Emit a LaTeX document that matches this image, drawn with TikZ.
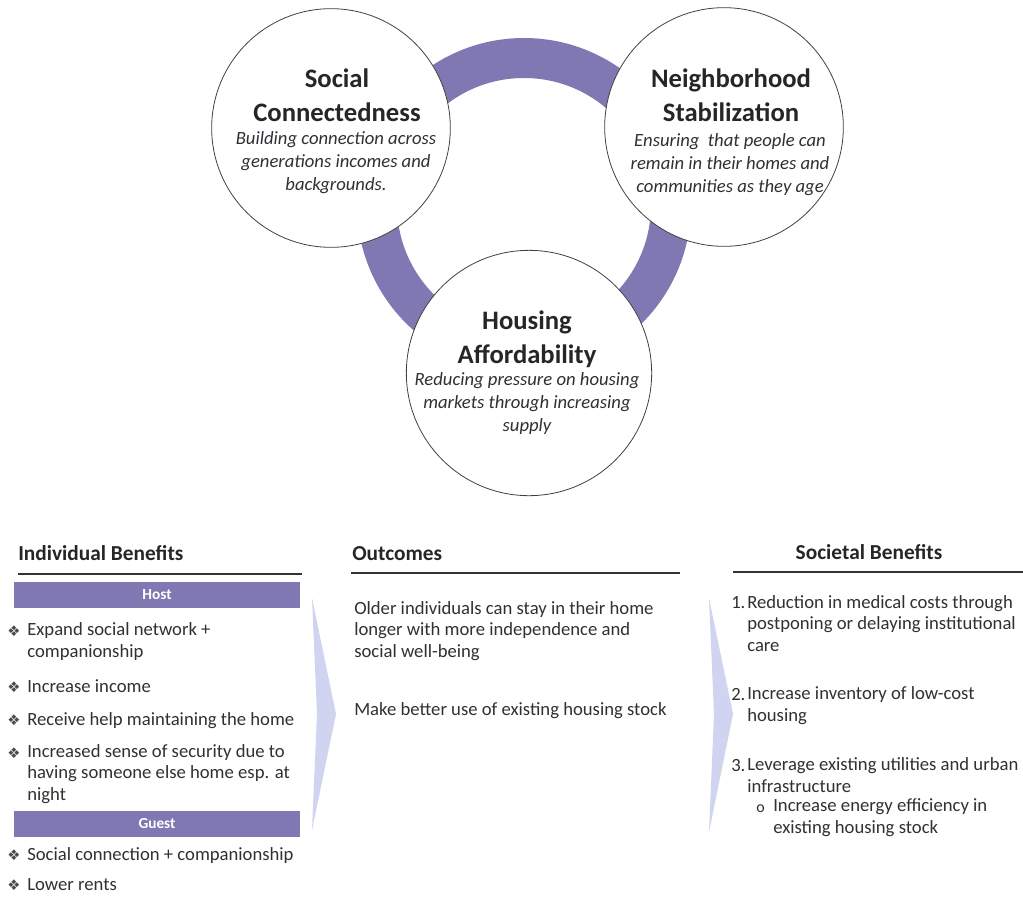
\documentclass[tikz,border=0pt]{standalone}
\usepackage{fontspec}
\setmainfont{Carlito}
\newfontfamily\symfont{DejaVu Sans}
\usepackage{tikz}
\usetikzlibrary{positioning}

\definecolor{ringpurple}{RGB}{128,120,178}
\definecolor{chevblue}{RGB}{208,212,240}
\definecolor{txtgray}{RGB}{48,48,54}

\tikzstyle{circ} = [circle, minimum size=179pt, inner sep=0pt, draw=black!75, line width=0.6pt, fill=white]
\tikzstyle{ttl} = [align=center, inner sep=0pt, font=\fontsize{20}{25.5}\selectfont\bfseries, text=black!85]
\tikzstyle{dsc} = [align=center, inner sep=0pt, font=\fontsize{14}{17}\selectfont\itshape, text=txtgray]
\tikzstyle{hd} = [inner sep=0pt, font=\fontsize{16}{18}\selectfont\bfseries, text=black!85]
\tikzstyle{txt} = [align=left, inner sep=0pt, font=\fontsize{14}{16}\selectfont, text=txtgray]
\tikzstyle{blt} = [inner sep=0pt, font=\symfont\fontsize{11}{11}\selectfont, text=black!70]
\tikzstyle{pbar} = [rectangle, minimum width=214.5pt, minimum height=19pt, inner sep=0pt, fill=ringpurple, text=white, font=\fontsize{11.5}{12}\selectfont\bfseries]
\tikzstyle{rule} = [line width=1.5pt, black!80]
\tikzstyle{chev} = [fill=chevblue]

\begin{document}
\begin{tikzpicture}[x=0.75pt, y=-0.75pt]

\fill [white] (0,0) rectangle (1023,896);
\useasboundingbox (0,0) rectangle (1023,896);

% ring behind the three circles
\draw [ringpurple, line width=30pt] (524,205) circle [radius=147];

\node (S) [circ] at (331,128) {};
\node (N) [circ] at (724,127) {};
\node (H) [circ, minimum size=184pt] at (529,373) {};

% multi-line texts sit on the baseline of their last line
\node (St) [ttl, anchor=base] at (337,121) {Social\\Connectedness};
\node (Sd) [dsc, anchor=base] at (336,190) {Building connection across\\generations incomes and\\backgrounds.};

\node (Nt) [ttl, anchor=base] at (731,121) {Neighborhood\\Stabilization};
\node (Nd) [dsc, anchor=base] at (730,192) {Ensuring\ \ that people can\\remain in their homes and\\communities as they age};

\node (Ht) [ttl, anchor=base] at (527,363) {Housing\\Affordability};
\node (Hd) [dsc, anchor=base] at (527,431) {Reducing pressure on housing\\markets through increasing\\supply};

% individual benefits
\node (ib) [hd, anchor=base west] at (18,560) {Individual Benefits};
\draw [rule] (18,574) -- (302,574);
\node (host) [pbar] at (157,595) {Host};

\node (b1) [blt, anchor=base] at (14,636) {❖};
\node (h1) [txt, anchor=base west] at (27,657) {Expand social network +\\companionship};
\node (b2) [blt, anchor=base] at (14,692) {❖};
\node (h2) [txt, anchor=base west] at (27,692) {Increase income};
\node (b3) [blt, anchor=base] at (14,725) {❖};
\node (h3) [txt, anchor=base west] at (27,725) {Receive help maintaining the home};
\node (b4) [blt, anchor=base] at (14,758) {❖};
\node (h4) [txt, anchor=base west] at (27,800) {Increased sense of security due to\\having someone else home esp. at\\night};

\node (guest) [pbar] at (157,824) {Guest};
\node (b5) [blt, anchor=base] at (14,860) {❖};
\node (g1) [txt, anchor=base west] at (27,860) {Social connection + companionship};
\node (b6) [blt, anchor=base] at (14,890) {❖};
\node (g2) [txt, anchor=base west] at (27,890) {Lower rents};

% outcomes
\node (oc) [hd, anchor=base west] at (352,560) {Outcomes};
\draw [rule] (351,573) -- (680,573);
\node (o1) [txt, anchor=base west] at (354,657) {Older individuals can stay in their home\\longer with more independence and\\social well-being};
\node (o2) [txt, anchor=base west] at (354,715) {Make better use of existing housing stock};

% societal benefits
\node (sb) [hd, anchor=base] at (869,559) {Societal Benefits};
\draw [rule] (733,572) -- (1023,572);
\node (n1) [txt, anchor=base west] at (731,608) {1.};
\node (s1) [txt, anchor=base west] at (747,651) {Reduction in medical costs through\\postponing or delaying institutional\\care};
\node (n2) [txt, anchor=base west] at (731,700) {2.};
\node (s2) [txt, anchor=base west] at (747,721) {Increase inventory of low-cost\\housing};
\node (n3) [txt, anchor=base west] at (731,771) {3.};
\node (s3) [txt, anchor=base west] at (747,792) {Leverage existing utilities and urban\\infrastructure};
\node (ob) [txt, font=\fontsize{12}{12}\selectfont, anchor=base west] at (756,812) {o};
\node (s4) [txt, anchor=base west] at (773,833) {Increase energy efficiency in\\existing housing stock};

% arrows between the columns
\fill [chev] (312,598) -- (336,714) -- (312,830) -- (317,714) -- cycle;
\fill [chev] (709,598) -- (733,714) -- (709,832) -- (714,714) -- cycle;

\end{tikzpicture}
\end{document}
